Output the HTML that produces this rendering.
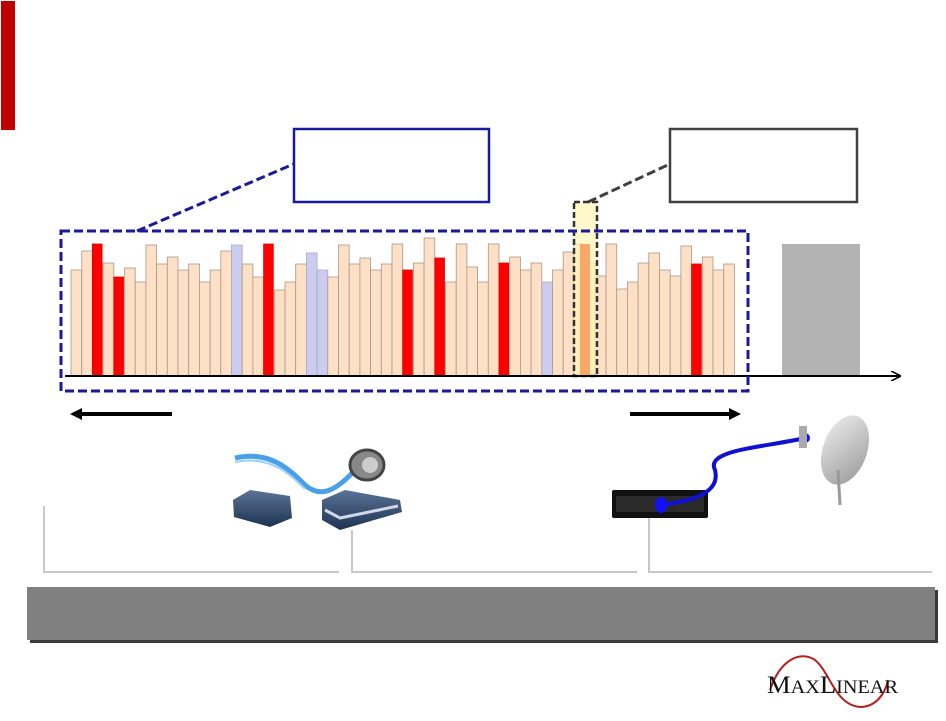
<!DOCTYPE html>
<html><head><meta charset="utf-8"><style>
html,body{margin:0;padding:0;background:#fff;width:946px;height:721px;overflow:hidden}
svg{display:block}
</style></head><body>
<svg id="s" width="946" height="721" viewBox="0 0 946 721" xmlns="http://www.w3.org/2000/svg">
<defs>
<marker id="ah" markerWidth="10" markerHeight="10" refX="9" refY="5" orient="auto" markerUnits="userSpaceOnUse"><path d="M0,0 L10,5 L0,10" fill="none" stroke="#000" stroke-width="1.6"/></marker>
<linearGradient id="bx" x1="0" y1="0" x2="0" y2="1"><stop offset="0" stop-color="#5a7396"/><stop offset="1" stop-color="#1e3352"/></linearGradient>
<linearGradient id="dish" x1="0" y1="0" x2="1" y2="1"><stop offset="0" stop-color="#eee"/><stop offset="1" stop-color="#999"/></linearGradient>
</defs>
<rect x="1" y="1" width="14" height="129" fill="#c00000"/>
<g id="bars"></g>
<rect x="574" y="202" width="23" height="174" fill="#fff6b8" fill-opacity="0.75" stroke="#333" stroke-width="2.5" stroke-dasharray="6 3"/>
<rect x="580" y="244" width="10" height="132" fill="#f8a868"/>
<rect x="782" y="244" width="78" height="132" fill="#b3b3b3"/>
<line x1="65" y1="376" x2="900" y2="376" stroke="#000" stroke-width="2" marker-end="url(#ah)"/>
<rect x="61" y="231" width="687" height="160" fill="none" stroke="#1a1a99" stroke-width="3" stroke-dasharray="9 4"/>
<line x1="137" y1="231" x2="296" y2="163" stroke="#1a1a99" stroke-width="3" stroke-dasharray="9 4"/>
<line x1="588" y1="202" x2="672" y2="163" stroke="#404040" stroke-width="3" stroke-dasharray="9 4"/>
<rect x="294" y="129" width="195" height="73" fill="#fff" stroke="#1a1aa0" stroke-width="2.5"/>
<rect x="670" y="129" width="187" height="73" fill="#fff" stroke="#404040" stroke-width="2.5"/>
<line x1="172" y1="414" x2="80" y2="414" stroke="#000" stroke-width="4"/>
<path d="M70,414 L82,408 L82,420Z" fill="#000"/>
<line x1="630" y1="414" x2="730" y2="414" stroke="#000" stroke-width="4"/>
<path d="M741,414 L729,408 L729,420Z" fill="#000"/>
<g fill="none" stroke="#c8c8c8" stroke-width="2">
<path d="M44,506 V572 H339"/>
<path d="M352,530 V572 H637"/>
<path d="M649,518 V572 H932"/>
</g>
<path d="M235,458 C270,450 290,470 305,485 C320,498 335,492 355,470" fill="none" stroke="#4aa0e8" stroke-width="5"/>
<path d="M235,462 C270,455 290,474 305,489" fill="none" stroke="#9ad0ff" stroke-width="2"/>
<ellipse cx="367" cy="465" rx="17" ry="15" fill="#888" stroke="#444" stroke-width="3"/>
<ellipse cx="370" cy="465" rx="8" ry="8" fill="#ccc"/>
<path d="M233,500 L250,490 L290,496 L292,518 L270,527 L234,517Z" fill="url(#bx)"/>
<path d="M322,500 L345,490 L400,500 L402,512 L340,530 L322,520Z" fill="url(#bx)"/>
<path d="M325,510 L340,518 L398,506" fill="none" stroke="#cfd8e6" stroke-width="3"/>
<rect x="612" y="490" width="96" height="28" rx="2" fill="#111"/>
<rect x="616" y="496" width="88" height="16" fill="#2a2a2a"/>
<path d="M661,505 C700,500 720,490 715,470 C705,450 760,448 805,438" fill="none" stroke="#1010d0" stroke-width="4"/>
<ellipse cx="661" cy="505" rx="6" ry="8" fill="#1010ff"/>
<circle cx="805" cy="438" r="5" fill="#1010ff"/>
<ellipse cx="845" cy="450" rx="22" ry="36" transform="rotate(20 845 450)" fill="url(#dish)"/>
<line x1="838" y1="470" x2="840" y2="505" stroke="#999" stroke-width="3"/>
<rect x="799" y="426" width="8" height="22" fill="#aaa"/>
<rect x="30" y="590" width="908" height="53" fill="#3a3a3a"/>
<rect x="27" y="587" width="908" height="53" fill="#808080"/>
<path d="M770,690 C780,660 800,650 815,660 C830,672 835,705 860,707 C875,707 885,695 888,680" fill="none" stroke="#b52020" stroke-width="2"/>
<text x="767" y="693" textLength="131" lengthAdjust="spacingAndGlyphs" font-family="Liberation Serif, serif" font-size="25" fill="#111">M<tspan font-size="19">AX</tspan>L<tspan font-size="19">INEAR</tspan></text>
</svg>
<script>
var t=[270,251,244,263,277,268,282,245,264,257,270,264,282,270,251,245,264,277,244,290,282,264,253,270,277,245,264,258,270,264,244,270,263,238,258,282,244,267,282,244,263,257,270,263,282,270,252,244,263,276,244,289,282,263,253,270,276,246,264,257,270,264];
var red={2:1,4:1,18:1,31:1,34:1,40:1,58:1},blue={15:1,22:1,23:1,44:1};
var w=10.7,g=document.getElementById('bars'),h='';
for(var i=0;i<t.length;i++){var x=71+i*w,f='#fde0c6',s='#a89888';
if(red[i]){f='#ff0000';s='#e00000';}else if(blue[i]){f='#ccccee';s='#a8a8c8';}
h+='<rect x="'+x.toFixed(1)+'" y="'+t[i]+'" width="'+(red[i]?w-1:w).toFixed(1)+'" height="'+(376-t[i])+'" fill="'+f+'" stroke="'+s+'" stroke-width="0.8"/>';}
g.innerHTML=h;
</script>
</body></html>
